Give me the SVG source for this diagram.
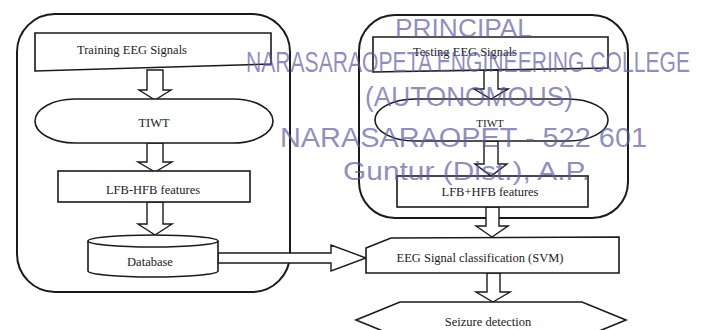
<svg xmlns="http://www.w3.org/2000/svg" width="702" height="330" viewBox="0 0 702 330">
<style>
.c{fill:none;stroke:#1a1a1a;stroke-width:2}
.s{fill:#fff;stroke:#1a1a1a;stroke-width:1.6}
.a{fill:#fff;stroke:#1a1a1a;stroke-width:1.4;stroke-linejoin:miter}
.t{font-family:"Liberation Serif",serif;font-size:12.5px;fill:#222;text-anchor:middle}
.st{font-family:"Liberation Sans",sans-serif;fill:#5c5ca8;fill-opacity:0.7;text-anchor:start}
</style>
<rect width="702" height="330" fill="#fff"/>
<g id="train-container"><rect class="c" x="17" y="14" width="273" height="278" rx="38" ry="38"/></g>
<g id="test-container"><rect class="c" x="359" y="15" width="269" height="203" rx="36" ry="36"/></g>
<g id="connectors">
<path class="a" d="M147,70 L163,70 L163,90 L171,90 L155,100 L139,90 L147,90 Z"/>
<path class="a" d="M147,143 L163,143 L163,162 L172,162 L155,172 L138,162 L147,162 Z"/>
<path class="a" d="M147,202 L163,202 L163,224 L172,224 L155,235 L138,224 L147,224 Z"/>
<path class="a" d="M484,70 L498,70 L498,89 L508,89 L491,99 L474,89 L484,89 Z"/>
<path class="a" d="M484,141 L498,141 L498,164 L507,164 L491,176 L475,164 L484,164 Z"/>
<path class="a" d="M486,207 L499,207 L499,226 L508,226 L492,237 L476,226 L486,226 Z"/>
<path class="a" d="M487,273 L500,273 L500,292 L510,292 L493,302 L476,292 L487,292 Z"/>
<path class="a" d="M218,253 L331,253 L331,245 L366,258 L331,271 L331,263 L218,263 Z"/>
</g>
<g id="training-signals"><path class="s" d="M35,33 L271,33 L271,64 L35,71 Z"/><text class="t" x="132" y="54">Training EEG Signals</text></g>
<g id="train-tiwt"><rect class="s" x="35" y="99" width="238" height="44" rx="40" ry="22"/><text class="t" x="154" y="127">TIWT</text></g>
<g id="train-features"><rect class="s" x="58" y="171" width="192" height="31"/><text class="t" x="153" y="194">LFB-HFB features</text></g>
<g id="database"><path class="s" d="M88,241 L88,271 A65,6 0 0 0 218,271 L218,241"/><ellipse class="s" cx="153" cy="241" rx="65" ry="6"/><text class="t" x="150" y="266">Database</text></g>
<g id="testing-signals"><path class="s" d="M373,37 L608,37 L608,68 L373,72 Z"/><text class="t" x="465" y="56">Testing EEG Signals</text></g>
<g id="test-tiwt"><rect class="s" x="375" y="99" width="233" height="42" rx="40" ry="21"/><text class="t" x="490" y="127" style="font-size:11px">TIWT</text></g>
<g id="test-features"><rect class="s" x="397" y="176" width="191" height="31"/><text class="t" x="490" y="196">LFB+HFB features</text></g>
<g id="classification"><path class="s" d="M366,248 L391,238 L619,237 L619,273 L366,273 Z"/><text class="t" x="480" y="262">EEG Signal classification (SVM)</text></g>
<g id="seizure"><path class="s" d="M356,320 L400,302 L582,302 L626,320 L582,338 L400,338 Z"/><text class="t" x="488" y="326">Seizure detection</text></g>
<g id="stamp">
<text class="st" x="395" y="37" font-size="25" textLength="137" lengthAdjust="spacingAndGlyphs">PRINCIPAL</text>
<text class="st" x="246" y="72" font-size="29" textLength="444" lengthAdjust="spacingAndGlyphs">NARASARAOPETA ENGINEERING COLLEGE</text>
<text class="st" x="365" y="106" font-size="28" textLength="208" lengthAdjust="spacingAndGlyphs">(AUTONOMOUS)</text>
<text class="st" x="280" y="147" font-size="27" textLength="367" lengthAdjust="spacingAndGlyphs">NARASARAOPET - 522 601</text>
<text class="st" x="343" y="180" font-size="26" textLength="247" lengthAdjust="spacingAndGlyphs">Guntur (Dist.), A.P.</text>
</g>
</svg>
